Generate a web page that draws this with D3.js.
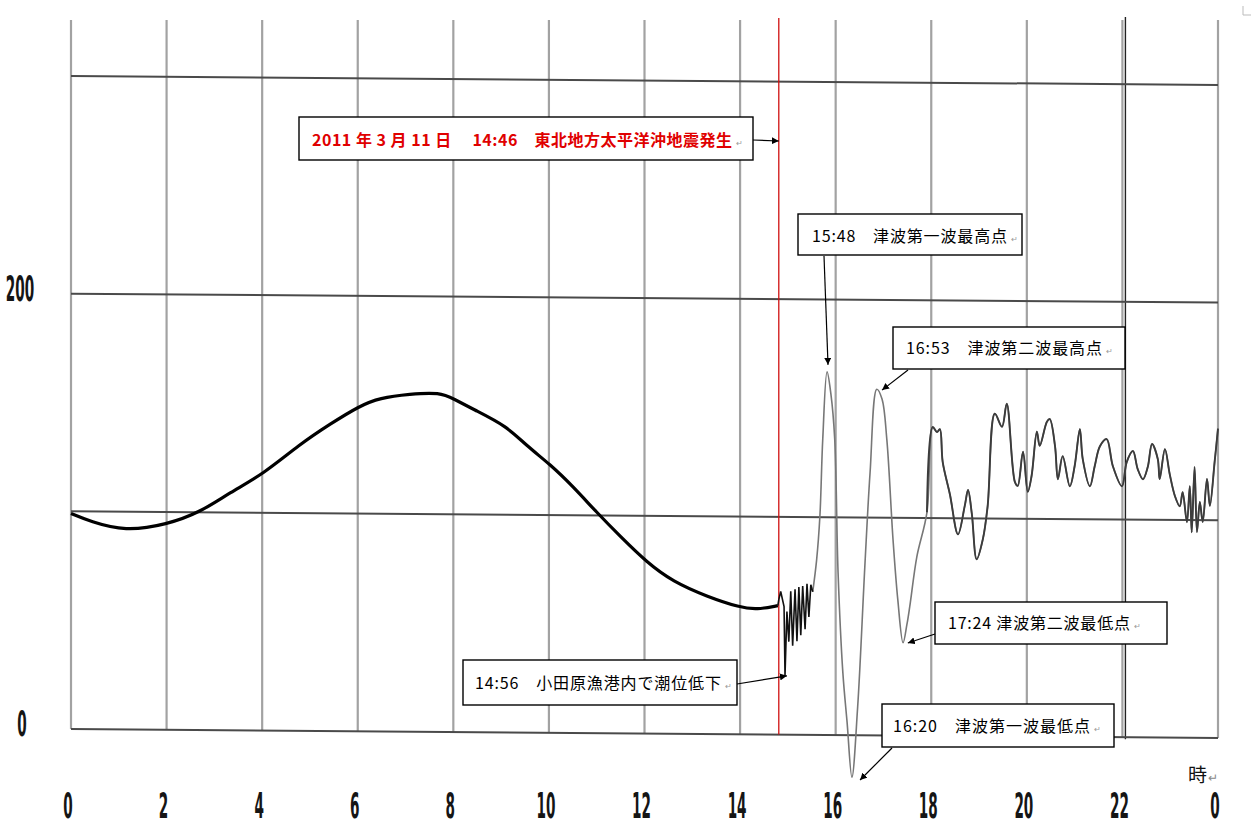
<!DOCTYPE html>
<html>
<head>
<meta charset="utf-8">
<script src="https://cdn.jsdelivr.net/npm/d3@7"></script>
<style>
body { margin: 0; background: #fff; }
svg { display: block; }
</style>
</head>
<body>
<script>
// Tide gauge record, Odawara fishing port, 11 March 2011 (hours, level in cm)
const preHours  = [0, 0.40, 1.13, 2.01, 2.70, 3.33, 4.02, 4.79, 5.42, 6.03, 6.46, 7.09, 7.72, 8.01,
                   8.41, 9.12, 9.54, 10.02, 10.50, 11.00, 11.49, 12.05, 12.59, 13.31, 14.00, 14.35, 14.79];
const preLevels = [99, 95.4, 91, 94.3, 100, 109.3, 117.7, 131.7, 141, 149.4, 153.2, 155.1, 156, 153,
                   148.4, 140.7, 131.6, 123.4, 113.3, 101.4, 90.5, 78.6, 69.9, 63.1, 58.2, 57.3, 59.2];

// shaking right after the quake
const burstHours  = [14.79, 14.81, 14.85, 14.92, 14.94, 14.98, 15.02, 15.06, 15.10, 15.15, 15.19,
                     15.23, 15.27, 15.31, 15.36, 15.40, 15.44, 15.48, 15.52];
const burstLevels = [59.2, 62, 65.7, 58.8, 27, 56.5, 42.7, 65.8, 40.9, 66.8, 42.9,
                     67.8, 45.7, 68.3, 48.5, 69.3, 54.1, 68.9, 65.7];

// tsunami waves
const waveHours  = [15.52, 15.60, 15.67, 15.73, 15.82, 15.90, 15.98, 16.05, 16.15, 16.24, 16.34, 16.46,
                    16.61, 16.72, 16.86, 16.97, 17.07, 17.20, 17.30, 17.41, 17.49, 17.55, 17.70, 17.91,
                    18.03, 18.12, 18.18, 18.24, 18.39, 18.56, 18.70, 18.77, 18.85, 18.95, 19.08, 19.18,
                    19.33, 19.48, 19.58, 19.75, 19.81, 19.92, 20.02, 20.10, 20.21, 20.27, 20.42, 20.48,
                    20.59, 20.65, 20.75, 20.90, 21.00, 21.11, 21.17, 21.32, 21.42, 21.53, 21.67, 21.80,
                    21.99, 22.09, 22.22, 22.32, 22.43, 22.53, 22.62, 22.74, 22.78, 22.89, 22.99, 23.10,
                    23.20, 23.26, 23.35, 23.41, 23.45, 23.51, 23.56, 23.62, 23.68, 23.77, 23.83, 23.93, 24.00];
const waveLevels = [65.7, 80, 100.4, 135.9, 166.8, 156.7, 136, 74.8, 28.8, 5.6, -19.3, 12.9,
                    77.4, 120.7, 159, 154.5, 136.1, 90, 62.4, 42.6, 50.9, 59.2, 82.3, 102.6,
                    141.8, 139.5, 140.9, 125.7, 111, 92.6, 105.6, 113, 101.9, 81.2, 90.5, 105.7,
                    148.2, 142.2, 152.8, 116.9, 115.1, 130.8, 112.4, 119.8, 140.1, 133.6, 144.6, 145.9,
                    133.5, 118.3, 128.9, 115.1, 124.3, 141.4, 127.6, 115.2, 124.4, 133.6, 136.9, 124.5,
                    115.3, 126.4, 131.5, 123.2, 118.6, 124.2, 134.8, 127.9, 118.7, 132.5, 121, 110.9,
                    106.3, 112.8, 99, 115.6, 94.4, 124.4, 94.5, 108.3, 99.1, 119, 106.6, 126.9, 142.1];

const xTicks = [0, 2, 4, 6, 8, 10, 12, 14, 16, 18, 20, 22, 24];
const xTickLabels = ["0", "2", "4", "6", "8", "10", "12", "14", "16", "18", "20", "22", "0"];
const yGrid = [0, 100, 200, 300];
const yTicks = [0, 200];
const quakeHour = 14.81;

const eventLabels = ["14:56\u3000小田原漁港内で潮位低下", "15:48\u3000津波第一波最高点", "16:53\u3000津波第二波最高点",
                     "17:24 津波第二波最低点", "16:20\u3000津波第一波最低点"];
const eventHours  = [14.98, 15.84, 16.97, 17.51, 16.51];
const eventLevels = [27, 170, 158.6, 42.5, -20.6];
const quakeLabel = "2011 年 3 月 11 日\u3000 14:46\u3000東北地方太平洋沖地震発生";

// text box layout for each event: box, text start, text width, arrow start
const boxes = [
  {x: 463, y: 660, w: 274, h: 45, tx: 475, ty: 689, tw: 246, ax: 737, ay: 684},
  {x: 798, y: 214, w: 224, h: 41, tx: 812, ty: 242, tw: 195, ax: 824, ay: 256},
  {x: 893, y: 327, w: 232, h: 42, tx: 906, ty: 354, tw: 196, ax: 908, ay: 370},
  {x: 935, y: 602, w: 232, h: 42, tx: 948, ty: 629, tw: 182, ax: 935, ay: 634},
  {x: 882, y: 704, w: 232, h: 43, tx: 893, ty: 732, tw: 197, ax: 892, ay: 748}
];
const quakeBox = {x: 299, y: 117, w: 454, h: 43, tx: 312, ty: 146, tw: 420, ay: 140};

const width = 1255, height = 835;
const skew = 0.0078;  // the scanned chart paper runs slightly downhill

const x = d3.scaleLinear().domain([0, 24]).range([71, 1218]);
const y = d3.scaleLinear().domain([0, 300]).range([729, 76]);
const py = (h, v) => y(v) + skew * (x(h) - x(0));

const svg = d3.select("body").append("svg")
    .attr("width", width)
    .attr("height", height);

const defs = svg.append("defs");
defs.append("marker")
    .attr("id", "arrow")
    .attr("viewBox", "0 0 10 10")
    .attr("refX", 10).attr("refY", 5)
    .attr("markerWidth", 7).attr("markerHeight", 7)
    .attr("markerUnits", "userSpaceOnUse")
    .attr("orient", "auto")
  .append("path")
    .attr("d", "M0,0L10,5L0,10z")
    .attr("fill", "#000");

// vertical grid
svg.append("g")
    .selectAll("line")
    .data(xTicks)
    .join("line")
    .attr("x1", d => x(d)).attr("x2", d => x(d))
    .attr("y1", 20).attr("y2", d => py(d, 0))
    .attr("stroke", "#a2a2a2")
    .attr("stroke-width", 2.2);

// darker pen line next to 22h
svg.append("line")
    .attr("x1", x(22) + 3).attr("x2", x(22) + 3)
    .attr("y1", 17).attr("y2", py(22, 0) + 2)
    .attr("stroke", "#222")
    .attr("stroke-width", 1.4);

// horizontal grid
svg.append("g")
    .selectAll("line")
    .data(yGrid)
    .join("line")
    .attr("x1", x(0)).attr("x2", x(24))
    .attr("y1", d => py(0, d)).attr("y2", d => py(24, d))
    .attr("stroke", "#4a4a4a")
    .attr("stroke-width", 2);

// quake time
svg.append("line")
    .attr("x1", x(quakeHour)).attr("x2", x(quakeHour))
    .attr("y1", 18).attr("y2", py(quakeHour, 0))
    .attr("stroke", "#d01010")
    .attr("stroke-width", 1.3);

const digitFont = '"Liberation Sans Narrow", "DejaVu Sans Condensed", sans-serif';

svg.append("g")
    .selectAll("text")
    .data(xTicks)
    .join("text")
    .attr("transform", d => `translate(${x(d) - 3},818) scale(0.42,1)`)
    .attr("text-anchor", "middle")
    .attr("font-family", digitFont)
    .attr("font-weight", "bold")
    .attr("font-size", 36)
    .attr("fill", "#151515")
    .text((d, i) => xTickLabels[i]);

svg.append("g")
    .selectAll("text")
    .data(yTicks)
    .join("text")
    .attr("transform", d => `translate(${d === 0 ? 22 : 20},${y(d) + 7}) scale(0.42,1)`)
    .attr("text-anchor", "middle")
    .attr("font-family", digitFont)
    .attr("font-weight", "bold")
    .attr("font-size", 36)
    .attr("fill", "#151515")
    .text(d => d);

const toPts = (hs, vs) => hs.map((h, i) => ({h, v: vs[i]}));
const line = d3.line()
    .x(d => x(d.h))
    .y(d => py(d.h, d.v))
    .curve(d3.curveCatmullRom);

const wave = toPts(waveHours, waveLevels);

svg.append("path")
    .datum(toPts(preHours, preLevels))
    .attr("d", line.curve(d3.curveBasis))
    .attr("fill", "none")
    .attr("stroke", "#000")
    .attr("stroke-width", 3.2);
line.curve(d3.curveCatmullRom);

svg.append("path")
    .datum(wave)
    .attr("d", line)
    .attr("fill", "none")
    .attr("stroke", "#777")
    .attr("stroke-width", 1.6);

svg.append("path")
    .datum(wave.filter(d => d.h >= 17.9))
    .attr("d", line)
    .attr("fill", "none")
    .attr("stroke", "#3c3c3c")
    .attr("stroke-width", 1.9);

svg.append("path")
    .datum(toPts(burstHours, burstLevels))
    .attr("d", d3.line().x(d => x(d.h)).y(d => py(d.h, d.v)))
    .attr("fill", "none")
    .attr("stroke", "#111")
    .attr("stroke-width", 1.6);

// annotation boxes
const jpFont = '"Noto Sans CJK JP", "Noto Sans", sans-serif';

function addBox(b, label, color, bold) {
    svg.append("rect")
        .attr("x", b.x).attr("y", b.y)
        .attr("width", b.w).attr("height", b.h)
        .attr("fill", "#fff")
        .attr("stroke", "#000")
        .attr("stroke-width", 1.4);
    svg.append("text")
        .attr("x", b.tx).attr("y", b.ty)
        .attr("font-family", jpFont)
        .attr("font-size", 16)
        .attr("font-weight", bold ? "bold" : "normal")
        .attr("fill", color)
        .attr("textLength", b.tw)
        .attr("lengthAdjust", "spacing")
        .text(label);
    svg.append("text")
        .attr("x", b.tx + b.tw + 4).attr("y", b.ty)
        .attr("font-family", jpFont)
        .attr("font-size", 8)
        .attr("fill", "#999")
        .text("↵");
}

addBox(quakeBox, quakeLabel, "#e00000", true);
svg.append("line")
    .attr("x1", quakeBox.x + quakeBox.w).attr("y1", quakeBox.ay)
    .attr("x2", x(quakeHour)).attr("y2", quakeBox.ay + 1)
    .attr("stroke", "#000")
    .attr("stroke-width", 1.2)
    .attr("marker-end", "url(#arrow)");

eventLabels.forEach((label, i) => {
    const b = boxes[i];
    addBox(b, label, "#000", false);
    svg.append("line")
        .attr("x1", b.ax).attr("y1", b.ay)
        .attr("x2", x(eventHours[i])).attr("y2", py(eventHours[i], eventLevels[i]))
        .attr("stroke", "#000")
        .attr("stroke-width", 1.2)
        .attr("marker-end", "url(#arrow)");
});

// unit label
svg.append("text")
    .attr("x", 1188).attr("y", 782)
    .attr("font-family", jpFont)
    .attr("font-size", 19)
    .attr("fill", "#111")
    .text("時");
svg.append("text")
    .attr("x", 1208).attr("y", 782)
    .attr("font-family", jpFont)
    .attr("font-size", 12)
    .attr("fill", "#888")
    .text("↵");

// corner mark of the page
svg.append("path")
    .attr("d", "M1243,6V15H1251")
    .attr("fill", "none")
    .attr("stroke", "#bbb")
    .attr("stroke-width", 1);
</script>
</body>
</html>
